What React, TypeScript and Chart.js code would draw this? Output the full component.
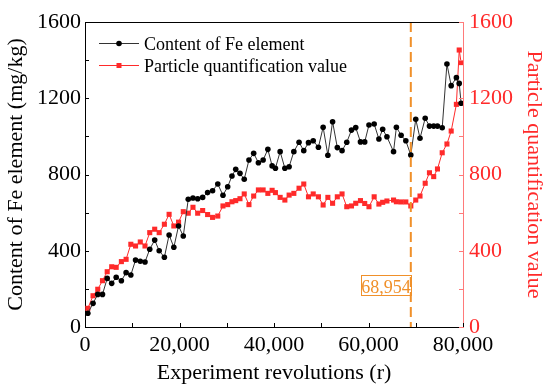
import React, { useEffect, useRef } from 'react';
import { Chart, registerables } from 'chart.js';

Chart.register(...registerables);

// ---- data ----
const revolutions = [
  600, 1700, 2700, 3700, 4700, 5650, 6600, 7700, 8700, 9700,
  10700, 11700, 12700, 13700, 14750, 15700, 16800, 17800, 18800, 19800,
  20800, 21850, 22850, 23850, 24900, 25950, 27000, 28100, 29200, 30200,
  31100, 31900, 32800, 33700, 34700, 35700, 36700, 37700, 38700, 39600,
  40300, 41300, 42300, 43200, 44200, 45300, 46300, 47300, 48300, 49400,
  50400, 51400, 52400, 53400, 54400, 55400, 56400, 57300, 58300, 59200,
  60100, 61200, 62200, 63000, 63900, 65300, 65900, 66900, 67900, 68954,
  70000, 70900, 72000, 72900, 73800, 74600, 75600, 76600, 77500, 78600,
  79200, 79600,
];

const feContent = [
  72, 124, 171, 171, 255, 229, 261, 243, 285, 273,
  351, 345, 341, 408, 456, 400, 366, 483, 418, 530,
  477, 670, 677, 673, 680, 705, 715, 750, 691, 736,
  792, 827, 806, 775, 876, 911, 862, 876, 932, 845,
  833, 920, 833, 841, 920, 969, 925, 967, 977, 943,
  1048, 901, 1077, 941, 925, 969, 1033, 1046, 971, 971,
  1060, 1065, 986, 1037, 998, 920, 1048, 1006, 977, 902,
  1090, 990, 1095, 1054, 1054, 1054, 1045, 1380, 1266, 1308,
  1278, 1174,
];

const particleValue = [
  98, 164, 198, 243, 290, 316, 313, 343, 355, 434,
  425, 446, 425, 495, 513, 495, 539, 591, 530, 550,
  605, 597, 628, 597, 611, 590, 575, 582, 635, 642,
  657, 663, 673, 698, 642, 687, 719, 719, 701, 717,
  705, 680, 666, 692, 701, 728, 750, 683, 698, 683,
  640, 680, 649, 683, 698, 631, 635, 649, 663, 648,
  631, 683, 645, 654, 661, 666, 657, 656, 656, 635,
  666, 687, 754, 809, 789, 829, 914, 960, 1028, 1168,
  1453, 1387,
];

const seriesLabels = ['Content of Fe element', 'Particle quantification value'];
const xTitle = 'Experiment revolutions (r)';
const yTitle = 'Content of Fe element (mg/kg)';
const y1Title = 'Particle quantification value';
const markerRevolution = 68954;
const markerLabel = '68,954';

const FONT = "'Liberation Serif', 'Times New Roman', serif";
const RED = '#ff2a2a';
const ORANGE = '#f0902a';

const fmt = (v: number) => v.toLocaleString('en-US');

const decorPlugin = {
  id: 'decor',
  afterDatasetsDraw(chart: any) {
    const { ctx, chartArea: a, scales } = chart;
    const mx = scales.x.getPixelForValue(markerRevolution);
    ctx.save();
    // label box
    const bw = 50, bh = 20;
    const bx = Math.round(mx) - bw, by = Math.round(a.bottom) - 52;
    ctx.fillStyle = '#fff';
    ctx.fillRect(bx, by, bw, bh);
    ctx.strokeStyle = ORANGE;
    ctx.lineWidth = 1;
    ctx.strokeRect(bx + 0.5, by + 0.5, bw, bh);
    ctx.fillStyle = ORANGE;
    ctx.font = `18px ${FONT}`;
    ctx.textAlign = 'center';
    ctx.textBaseline = 'alphabetic';
    ctx.fillText(markerLabel, bx + bw / 2, by + 18);
    // dashed line
    ctx.strokeStyle = ORANGE;
    ctx.lineWidth = 2;
    ctx.setLineDash([10, 5]);
    ctx.beginPath();
    ctx.moveTo(mx, a.top);
    ctx.lineTo(mx, a.bottom);
    ctx.stroke();
    ctx.setLineDash([]);
    ctx.restore();
  },
  afterDraw(chart: any) {
    const { ctx, chartArea: a, scales } = chart;
    ctx.save();
    // top frame
    ctx.strokeStyle = '#000';
    ctx.lineWidth = 1;
    ctx.beginPath();
    ctx.moveTo(a.left, a.top + 0.5);
    ctx.lineTo(a.right, a.top + 0.5);
    ctx.stroke();
    // inner ticks
    const tl = 4;
    ctx.beginPath();
    scales.x.ticks.forEach((t: any) => {
      const px = Math.round(scales.x.getPixelForValue(t.value)) + 0.5;
      ctx.moveTo(px, a.bottom);
      ctx.lineTo(px, a.bottom - tl);
    });
    scales.y.ticks.forEach((t: any) => {
      const py = Math.round(scales.y.getPixelForValue(t.value)) + 0.5;
      ctx.moveTo(a.left, py);
      ctx.lineTo(a.left + tl, py);
    });
    ctx.stroke();
    ctx.strokeStyle = '#ff7a7a';
    ctx.beginPath();
    scales.y1.ticks.forEach((t: any) => {
      const py = Math.round(scales.y1.getPixelForValue(t.value)) + 0.5;
      ctx.moveTo(a.right, py);
      ctx.lineTo(a.right - tl, py);
    });
    ctx.stroke();
    // legend
    const lx0 = a.left + 14, lx1 = a.left + 54, tx = a.left + 59;
    const rows = [a.top + 21, a.top + 43];
    ctx.font = `18px ${FONT}`;
    ctx.textAlign = 'left';
    ctx.textBaseline = 'alphabetic';
    // row 1
    ctx.strokeStyle = '#333';
    ctx.lineWidth = 1;
    ctx.beginPath();
    ctx.moveTo(lx0, rows[0] + 0.5);
    ctx.lineTo(lx1, rows[0] + 0.5);
    ctx.stroke();
    ctx.fillStyle = '#000';
    ctx.beginPath();
    ctx.arc((lx0 + lx1) / 2, rows[0] + 0.5, 2.8, 0, Math.PI * 2);
    ctx.fill();
    ctx.fillText(seriesLabels[0], tx, rows[0] + 6.5);
    // row 2
    ctx.strokeStyle = RED;
    ctx.beginPath();
    ctx.moveTo(lx0, rows[1] + 0.5);
    ctx.lineTo(lx1, rows[1] + 0.5);
    ctx.stroke();
    ctx.fillStyle = RED;
    ctx.fillRect((lx0 + lx1) / 2 - 2.5, rows[1] - 2, 5, 5);
    ctx.fillStyle = '#000';
    ctx.fillText(seriesLabels[1], tx, rows[1] + 6.5);
    ctx.restore();
  },
};

export default function App() {
  const ref = useRef<HTMLCanvasElement | null>(null);

  useEffect(() => {
    if (!ref.current) return;
    Chart.defaults.font.family = FONT;
    const chart = new Chart(ref.current, {
      type: 'line',
      data: {
        datasets: [
          {
            label: seriesLabels[0],
            data: revolutions.map((x, i) => ({ x, y: feContent[i] })),
            borderColor: '#333',
            borderWidth: 1,
            pointStyle: 'circle',
            pointRadius: 2.8,
            pointBackgroundColor: '#000',
            pointBorderColor: '#000',
            pointBorderWidth: 0,
            yAxisID: 'y',
            tension: 0,
          },
          {
            label: seriesLabels[1],
            data: revolutions.map((x, i) => ({ x, y: particleValue[i] })),
            borderColor: RED,
            borderWidth: 1,
            pointStyle: 'rect',
            pointRadius: 3.6,
            pointBackgroundColor: RED,
            pointBorderColor: RED,
            pointBorderWidth: 0,
            yAxisID: 'y1',
            tension: 0,
          },
        ],
      },
      options: {
        responsive: false,
        animation: false,
        devicePixelRatio: 1,
        layout: { padding: { top: 22, left: 0, right: 0, bottom: 0 } },
        plugins: {
          legend: { display: false },
          tooltip: { enabled: false },
        },
        scales: {
          x: {
            type: 'linear',
            position: 'bottom',
            min: 0,
            max: 80000,
            afterFit: (s: any) => { s.height = 62; },
            grid: { display: false, drawTicks: false },
            border: { display: true, color: '#000', width: 1 },
            ticks: {
              stepSize: 10000,
              autoSkip: false,
              maxRotation: 0,
              padding: 5,
              color: '#000',
              font: { size: 22, family: FONT },
              callback: (v: any) => (Number(v) % 20000 === 0 ? fmt(Number(v)) : ''),
            },
            title: {
              display: true,
              text: xTitle,
              color: '#000',
              font: { size: 22, family: FONT },
              padding: { top: 0, bottom: 3 },
            },
          },
          y: {
            type: 'linear',
            position: 'left',
            min: 0,
            max: 1600,
            afterFit: (s: any) => { s.width = 85; },
            grid: { display: false, drawTicks: false },
            border: { display: true, color: '#000', width: 1 },
            ticks: {
              stepSize: 200,
              autoSkip: false,
              padding: 4,
              color: '#000',
              font: { size: 22, family: FONT },
              callback: (v: any) => (Number(v) % 400 === 0 ? String(v) : ''),
            },
            title: {
              display: true,
              text: yTitle,
              color: '#000',
              font: { size: 22, family: FONT },
              padding: { top: 3, bottom: 0 },
            },
          },
          y1: {
            type: 'linear',
            position: 'right',
            min: 0,
            max: 1600,
            afterFit: (s: any) => { s.width = 87; },
            grid: { display: false, drawTicks: false },
            border: { display: true, color: '#ff7a7a', width: 1 },
            ticks: {
              stepSize: 200,
              autoSkip: false,
              padding: 6,
              color: RED,
              font: { size: 22, family: FONT },
              callback: (v: any) => (Number(v) % 400 === 0 ? String(v) : ''),
            },
            title: {
              display: true,
              text: y1Title,
              color: RED,
              font: { size: 22, family: FONT },
              padding: { top: 3, bottom: 0 },
            },
          },
        },
      },
      plugins: [decorPlugin],
    });
    return () => chart.destroy();
  }, []);

  return (
    <div style={{ position: 'absolute', left: 0, top: 0, width: 550, height: 389, background: '#fff' }}>
      <canvas ref={ref} width={550} height={389} style={{ display: 'block', width: 550, height: 389 }} />
    </div>
  );
}
